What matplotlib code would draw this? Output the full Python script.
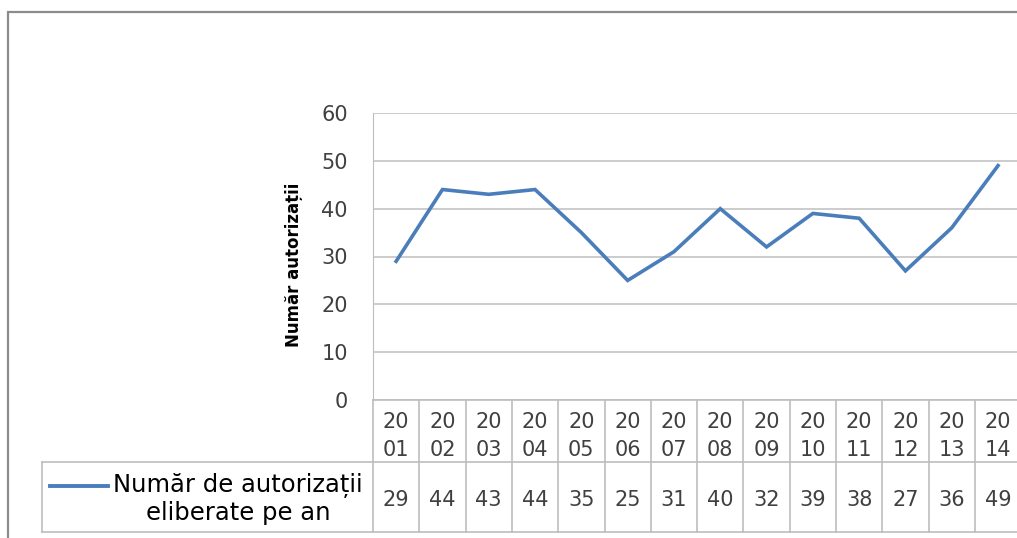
import matplotlib
matplotlib.use("Agg")
from matplotlib import pyplot as plt
from matplotlib.patches import Rectangle
from matplotlib.lines import Line2D

# data
years = ["2001", "2002", "2003", "2004", "2005", "2006", "2007",
         "2008", "2009", "2010", "2011", "2012", "2013", "2014"]
values = [29, 44, 43, 44, 35, 25, 31, 40, 32, 39, 38, 27, 36, 49]
series_name = "Număr de autorizații\neliberate pe an"
y_title = "Număr autorizații"
y_ticks = [0, 10, 20, 30, 40, 50, 60]

W, H = 1017, 538
fig = plt.figure(figsize=(W / 100, H / 100), dpi=100)
plt.rcParams["font.family"] = ["DejaVu Sans"]

# helpers: pixel -> figure fraction
def fx(px):
    return px / W

def fy(py):
    return 1 - py / H

grid_c = "#c8c8c8"
tab_c = "#bdbdbd"
txt_c = "#404040"
line_c = "#4a7ebb"

# outer chart border (right/bottom run past the image)
fig.patches.append(Rectangle((fx(8), fy(1100)), 3.0, fy(12) - fy(1100),
                             transform=fig.transFigure, fill=False,
                             edgecolor="#8c8c8c", linewidth=1.6))

x_left, x_right = 373, 373 + 14 * 46.3
y_top, y_zero = 113, 400
ax = fig.add_axes([fx(x_left), fy(y_zero), fx(x_right) - fx(x_left), fy(y_top) - fy(y_zero)])
ax.set_xlim(-0.5, len(years) - 0.5)
ax.set_ylim(0, 60)
ax.set_yticks(y_ticks)
ax.set_yticklabels([str(v) for v in y_ticks], fontsize=15, color=txt_c)
ax.tick_params(axis="y", length=0, pad=18)
ax.set_xticks([])
for s in ["top", "right", "bottom"]:
    ax.spines[s].set_visible(False)
ax.spines["left"].set_color(tab_c)
ax.yaxis.grid(True, color=grid_c, linewidth=1.3)
ax.set_axisbelow(True)

xs = list(range(len(years)))
ax.plot(xs, values, color=line_c, linewidth=2.6, solid_joinstyle="miter", clip_on=False)

ax.set_ylabel(y_title, fontsize=12, fontweight="bold", color="#000000")
ax.yaxis.set_label_coords(-(x_left - 303) / (x_right - x_left), 0.472)

# data table under the plot area
row1 = 462
row2 = 532

def ay(py):
    return (y_zero - py) / (y_zero - y_top)

def axx(px):
    return (px - x_left) / (x_right - x_left)

def seg(x0, y0, x1, y1):
    ax.add_line(Line2D([x0, x1], [y0, y1], transform=ax.transAxes, color=tab_c,
                       linewidth=1.2, clip_on=False))

seg(0, 0, 1, 0)
seg(axx(42), ay(row1), 1, ay(row1))
seg(axx(42), ay(row2), 1, ay(row2))
seg(axx(42), ay(row1), axx(42), ay(row2))
for i in range(len(years) + 1):
    xb = i / len(years)
    seg(xb, 0, xb, ay(row2))

blend = matplotlib.transforms.blended_transform_factory(ax.transData, ax.transAxes)
for i, (yr, v) in enumerate(zip(years, values)):
    ax.text(i, ay(436), yr[:2] + "\n" + yr[2:], transform=blend, ha="center", va="center",
            fontsize=15, color=txt_c, linespacing=1.45, clip_on=False)
    ax.text(i, ay(500), str(v), transform=blend, ha="center", va="center",
            fontsize=15, color=txt_c, clip_on=False)

# legend key inside the table
ax.add_line(Line2D([axx(50), axx(108)], [ay(486), ay(486)], transform=ax.transAxes,
                   color=line_c, linewidth=2.8, clip_on=False))
ax.text(axx(238), ay(499), series_name, transform=ax.transAxes, ha="center", va="center",
        multialignment="center", fontsize=17.5, color="#000000", linespacing=1.12,
        clip_on=False)

fig.savefig("out.png", dpi=100)
